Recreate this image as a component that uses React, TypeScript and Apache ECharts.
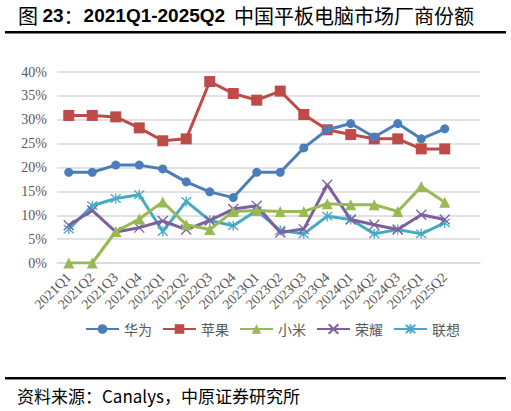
import React, { useEffect, useRef } from "react";
import * as echarts from "echarts";

const categories = [
  "2021Q1", "2021Q2", "2021Q3", "2021Q4", "2022Q1", "2022Q2", "2022Q3", "2022Q4",
  "2023Q1", "2023Q2", "2023Q3", "2023Q4", "2024Q1", "2024Q2", "2024Q3", "2025Q1", "2025Q2", "",
];
const huawei = [19, 19, 20.5, 20.5, 19.7, 17, 14.9, 13.7, 19, 19, 24.1, 27.9, 29.2, 26.4, 29.2, 26, 28.1];
const apple = [30.9, 30.9, 30.6, 28.3, 25.6, 26, 38, 35.5, 34.1, 36, 31.1, 27.9, 26.9, 26, 26, 23.9, 23.9];
const xiaomi = [0, 0, 6.6, 9.2, 12.8, 8, 7, 10.8, 11, 10.8, 10.8, 12.4, 12.2, 12.2, 10.8, 16, 12.7];
const honor = [7.9, 11, 6.5, 7.4, 8.8, 7, 8.9, 11.3, 12, 6.4, 7.1, 16.4, 9.1, 8, 7, 10.1, 9.1];
const lenovo = [7.1, 12, 13.5, 14.3, 6.6, 12.9, 8.9, 7.8, 11, 6.8, 6.1, 9.8, 9.1, 6.1, 7, 6.1, 8.4];
const seriesNames = ["华为", "苹果", "小米", "荣耀", "联想"];
const yTicks = [0, 5, 10, 15, 20, 25, 30, 35, 40];

const TITLE_MAIN = "23";
const TITLE_RANGE = "2021Q1-2025Q2";
const TITLE_SUB = "中国平板电脑市场厂商份额";
const SOURCE = "资料来源：Canalys，中原证券研究所";

const CJK = "'Noto Sans CJK SC', sans-serif";
const SERIF = "'Liberation Serif', 'DejaVu Serif', serif";

export default function App() {
  const ref = useRef<HTMLDivElement>(null);
  useEffect(() => {
    if (!ref.current) return;
    const chart = echarts.init(ref.current, null, { renderer: "svg" });
    const colors = ["#4A7EBB", "#BE4B48", "#98B954", "#7D60A0", "#46AAC5"];
    const symbols = [
      "circle",
      "rect",
      "triangle",
      "path://M0,0L10,10M10,0L0,10",
      "path://M0,0L10,10M10,0L0,10M5,-1L5,11",
    ];
    const sizes = [9, 11, 11, 10, 10];
    const data = [huawei, apple, xiaomi, honor, lenovo];
    chart.setOption({
      animation: false,
      color: colors,
      grid: { left: 57, right: 31, top: 72, bottom: 148, containLabel: false },
      legend: {
        left: 80,
        top: 317,
        itemWidth: 33,
        itemHeight: 12,
        itemGap: 10,
        textStyle: { fontFamily: CJK, fontSize: 14, color: "#595959" },
        data: seriesNames,
      },
      xAxis: {
        type: "category",
        data: categories,
        boundaryGap: true,
        axisLine: { lineStyle: { color: "#D9D9D9", width: 1.5 } },
        axisTick: { show: false },
        axisLabel: {
          rotate: 45,
          interval: 0,
          margin: 12,
          fontFamily: SERIF,
          fontSize: 14,
          color: "#595959",
        },
      },
      yAxis: {
        type: "value",
        min: yTicks[0],
        max: yTicks[yTicks.length - 1],
        interval: 5,
        axisLine: { show: false },
        axisTick: { show: false },
        splitLine: { lineStyle: { color: "#D9D9D9", width: 1.5 } },
        axisLabel: {
          formatter: "{value}%",
          margin: 10,
          fontFamily: SERIF,
          fontSize: 14,
          color: "#595959",
        },
      },
      series: seriesNames.map((name, i) => ({
        name,
        type: "line",
        data: data[i],
        symbol: symbols[i],
        symbolSize: sizes[i],
        lineStyle: { width: 3, color: colors[i] },
        itemStyle: {
          color: colors[i],
          borderColor: colors[i],
          borderWidth: i >= 3 ? 1.3 : 0,
        },
        z: 10 - i,
      })),
      graphic: [
        {
          type: "text",
          left: 18,
          top: 5,
          style: {
            text: `{c|图 }{a|${TITLE_MAIN}}{c|：}{a|${TITLE_RANGE}}{c|  ${TITLE_SUB}}`,
            rich: {
              a: { fontFamily: "'Liberation Sans', Arial, sans-serif", fontWeight: "bold", fontSize: 19, fill: "#000" },
              c: { fontFamily: CJK, fontSize: 20, fill: "#000" },
            },
          },
        },
        {
          type: "rect",
          shape: { x: 5, y: 31, width: 501, height: 2.5 },
          style: { fill: "#000" },
        },
        {
          type: "rect",
          shape: { x: 5, y: 377, width: 501, height: 2.5 },
          style: { fill: "#000" },
        },
        {
          type: "text",
          left: 17,
          top: 387,
          style: {
            text: SOURCE,
            fontFamily: CJK,
            fontSize: 17,
            fill: "#000",
          },
        },
      ],
    });
    return () => chart.dispose();
  }, []);
  return (
    <div
      ref={ref}
      style={{ position: "fixed", left: 0, top: 0, width: 511, height: 411, background: "#fff" }}
    />
  );
}
